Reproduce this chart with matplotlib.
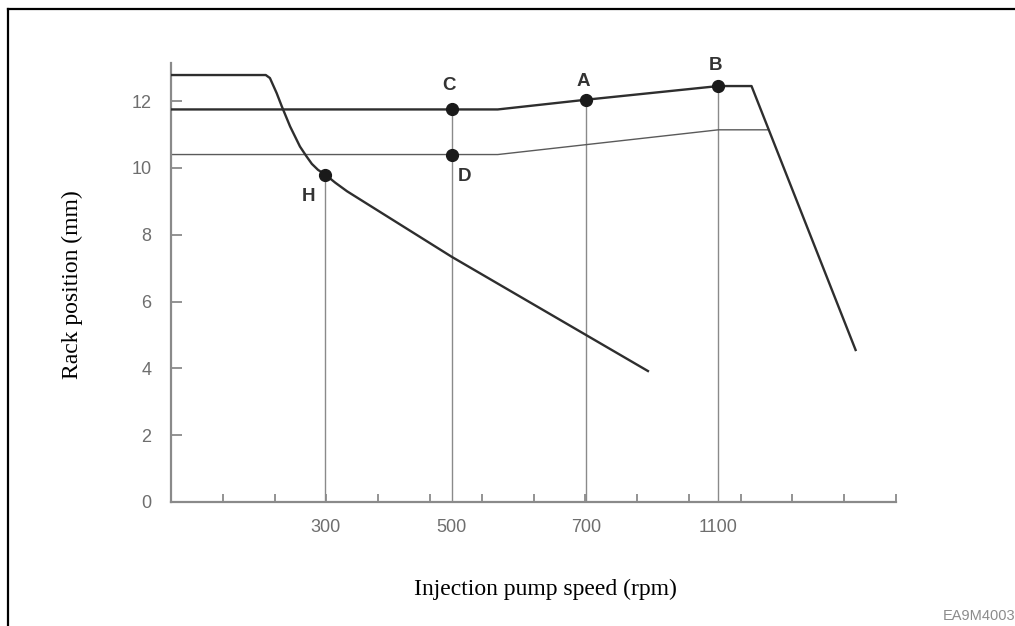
import matplotlib.pyplot as plt
from matplotlib.lines import Line2D

# speed axis is drawn on a schematic scale: one minor tick per unit
speed_labels = ["300", "500", "700", "1100"]
speed_pos = [2.98, 5.42, 8.01, 10.57]

# governor curve ending through point H
gov_x = [0, 1.83, 1.91, 2.04, 2.14, 2.30, 2.49, 2.61, 2.72, 2.84, 2.98,
         3.17, 3.40, 5.42, 9.21]
gov_y = [12.78, 12.78, 12.69, 12.24, 11.84, 11.24, 10.64, 10.36, 10.12, 9.94, 9.80,
         9.56, 9.30, 7.34, 3.92]

# full-load curve through C, A, B
full_x = [0, 5.42, 6.31, 8.01, 10.57, 11.21, 13.22]
full_y = [11.75, 11.75, 11.75, 12.04, 12.45, 12.45, 4.55]

# thin reference line through D
thin_x = [0, 5.42, 6.31, 10.57, 11.54]
thin_y = [10.4, 10.4, 10.4, 11.14, 11.14]

point_names = ["H", "C", "D", "A", "B"]
point_x = [2.98, 5.42, 5.42, 8.01, 10.57]
point_y = [9.80, 11.75, 10.4, 12.04, 12.45]
label_offsets = [(-12, -16), (-2, 17), (9, -16), (-1.5, 13), (-2, 15)]  # points

dark = "#2e2e2e"
mid = "#6e6e6e"
light = "#8a8a8a"
tick_font = ["Liberation Sans Narrow", "Liberation Sans", "DejaVu Sans"]

fig = plt.figure(figsize=(10.15, 6.26), dpi=100)
ax = fig.add_axes([171 / 1015, 124 / 626, 725 / 1015, 439 / 626])

# drop lines from the marked points to the speed axis
for name, x, y in zip(point_names, point_x, point_y):
    if name == "D":
        continue
    ax.plot([x, x], [0, y], color=light, lw=1.0, zorder=1)

ax.plot(thin_x, thin_y, color="#5a5a5a", lw=1.0, zorder=2)
ax.plot(gov_x, gov_y, color=dark, lw=1.7, zorder=3, solid_joinstyle="round")
ax.plot(full_x, full_y, color=dark, lw=1.7, zorder=3, solid_joinstyle="round")
ax.plot(point_x, point_y, "o", color="#1a1a1a", ms=8.5, zorder=4)

for name, x, y, off in zip(point_names, point_x, point_y, label_offsets):
    ax.annotate(name, (x, y), xytext=off, textcoords="offset points",
                ha="center", va="center", fontsize=13.5, fontweight="bold",
                color="#333333", family=["Liberation Sans", "DejaVu Sans"])

ax.set_xlim(0, 14)
ax.set_ylim(0, 13.14)

for side in ("top", "right"):
    ax.spines[side].set_visible(False)
for side in ("left", "bottom"):
    ax.spines[side].set_color(light)
    ax.spines[side].set_linewidth(1.6)

ax.set_xticks(speed_pos)
ax.set_xticklabels(speed_labels)
ax.set_xticks(range(1, 15), minor=True)
ax.set_yticks(range(0, 13, 2))
ax.tick_params(axis="x", which="major", length=0, pad=12, labelsize=13, labelcolor=mid)
ax.tick_params(axis="x", which="minor", direction="in", length=6, width=1.3, color=light)
ax.tick_params(axis="y", direction="in", length=8, width=1.3, color=light,
               pad=14, labelsize=13, labelcolor=mid)
for lbl in ax.get_xticklabels() + ax.get_yticklabels():
    lbl.set_family(tick_font)

fig.text(72 / 1015, 0.546, "Rack position (mm)", rotation=90, ha="center", va="center",
         fontsize=17, family=["Liberation Serif", "DejaVu Serif"])
fig.text(545 / 1015, 0.058, "Injection pump speed (rpm)", ha="center", va="center",
         fontsize=17, family=["Liberation Serif", "DejaVu Serif"])
fig.text(1.0, 0.016, "EA9M4003", ha="right", va="center", fontsize=10.5,
         color="#8c8c8c", family=tick_font)

# outer frame: top and left edges only
frame_y = 1 - 9 / 626
frame_x = 8 / 1015
fig.add_artist(Line2D([frame_x, 1], [frame_y, frame_y], color="black", lw=1.6))
fig.add_artist(Line2D([frame_x, frame_x], [0, frame_y], color="black", lw=1.6))

fig.savefig("out.png", dpi=100)
